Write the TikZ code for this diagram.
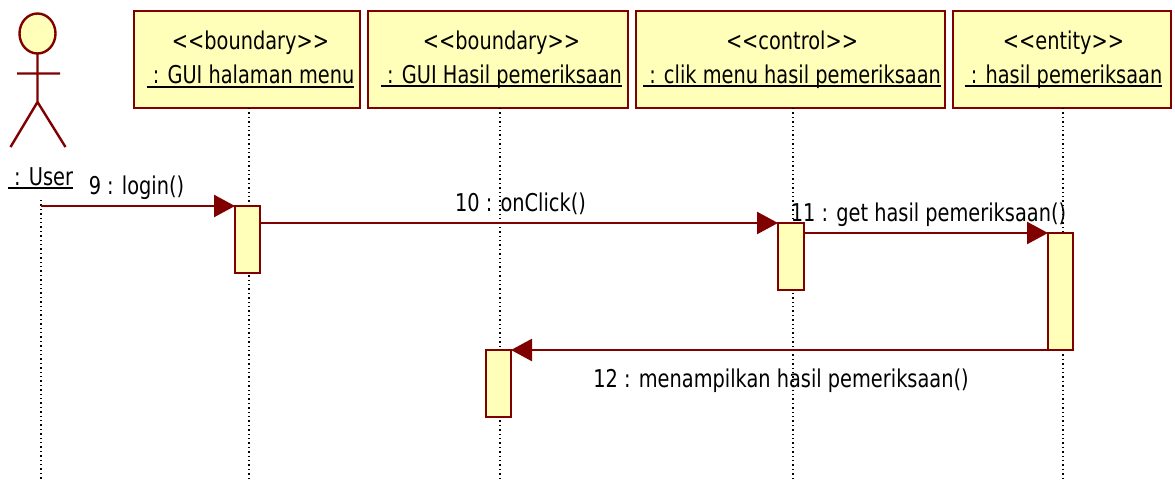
\documentclass[tikz,border=0pt]{standalone}
\usepackage{fontspec}
\setmainfont{DejaVu Sans}[FakeStretch=0.79]
\usetikzlibrary{arrows.meta}
\definecolor{umlline}{RGB}{128,0,0}
\definecolor{umlfill}{RGB}{255,255,185}
\newcommand{\ul}[1]{\sbox0{#1}\leavevmode\rlap{\raisebox{-4.2pt}{\rule{\wd0}{2pt}}}\usebox0}
\newcommand{\nudge}[1]{\hspace*{#1pt}}
\tikzset{x=1pt,y=-1pt,
  objbox/.style={draw=umlline,fill=umlfill,line width=2.4pt,outer sep=0pt,minimum height=97pt,inner sep=0pt,align=center,anchor=north west,text=black,font=\fontsize{24.5}{34}\selectfont},
  actbox/.style={draw=umlline,fill=umlfill,line width=2.4pt,outer sep=0pt,inner sep=0pt,anchor=north west,minimum width=25pt},
  life/.style={black,line width=1.3pt,dash pattern=on 1.4pt off 3pt},
  msg/.style={umlline,line width=2.4pt,-{Triangle[length=21pt,width=22pt,sharp]}},
  lbl/.style={inner sep=0pt,anchor=base,font=\fontsize{24.5}{29}\selectfont,text=black},
  stick/.style={draw=umlline,line width=2.4pt}}
\begin{document}
\begin{tikzpicture}
\useasboundingbox (0,0) rectangle (1175,480);
\fill[white] (0,0) rectangle (1175,480);
% object boxes
\node[objbox,minimum width=226pt] (o1) at (134,11) {\nudge{7}{<}{<}boundary{>}{>}\\\nudge{7}\ul{\ : GUI halaman menu}};
\node[objbox,minimum width=260pt] (o2) at (368,11) {\nudge{7}{<}{<}boundary{>}{>}\\\nudge{7}\ul{\ : GUI Hasil pemeriksaan}};
\node[objbox,minimum width=309pt] (o3) at (636,11) {\nudge{3}{<}{<}control{>}{>}\\\nudge{3}\ul{\ : clik menu hasil pemeriksaan}};
\node[objbox,minimum width=218pt] (o4) at (953,11) {\nudge{3}{<}{<}entity{>}{>}\\\nudge{3}\ul{\ : hasil pemeriksaan}};
% actor
\coordinate (u0) at (41,200);
\coordinate (ue) at (41,480);
\coordinate (e1) at (249,480);
\coordinate (e2) at (500,480);
\coordinate (e3) at (793,480);
\coordinate (e4) at (1063,480);
\coordinate (t1) at (249,108);
\coordinate (t2) at (500,108);
\coordinate (t3) at (793,108);
\coordinate (t4) at (1063,108);
\draw[life] (u0) -- (ue);
\draw[life] (t1) -- (e1);
\draw[life] (t2) -- (e2);
\draw[life] (t3) -- (e3);
\draw[life] (t4) -- (e4);
\draw[stick,fill=umlfill] (37.5,33.5) ellipse (18pt and 20pt);
\coordinate (neck) at (37.5,54);
\coordinate (hip) at (37.5,102);
\coordinate (armL) at (17,73.5);
\coordinate (armR) at (60,73.5);
\coordinate (legL) at (10.5,147);
\coordinate (legR) at (65.5,147);
\draw[stick] (neck) -- (hip) (armL) -- (armR) (legL) -- (hip) -- (legR);
\node[lbl] (ulabel) at (40.5,185) {\ul{\ : User}};
% activations
\node[actbox,minimum height=67pt] (a1) at (235,206) {};
\node[actbox,minimum height=67pt] (a2) at (486,350) {};
\node[actbox,minimum height=67pt,minimum width=26pt] (a3) at (778,223) {};
\node[actbox,minimum height=117pt] (a4) at (1048,233) {};
% messages
\coordinate (m0) at (41,206);
\draw[msg] (m0) -- (a1.north west);
\draw[msg] (a1.east |- a3.north) -- (a3.north west);
\draw[msg] (a3.east |- a4.north) -- (a4.north west);
\draw[msg] (a4.south west) -- (a2.north east);
\node[lbl] (l9) at (136.5,194) {9 : login()};
\node[lbl] (l10) at (520.5,211) {10 : onClick()};
\node[lbl] (l11) at (928.5,221) {11 : get hasil pemeriksaan()};
\node[lbl] (l12) at (781,387) {12 : menampilkan hasil pemeriksaan()};
\end{tikzpicture}
\end{document}
